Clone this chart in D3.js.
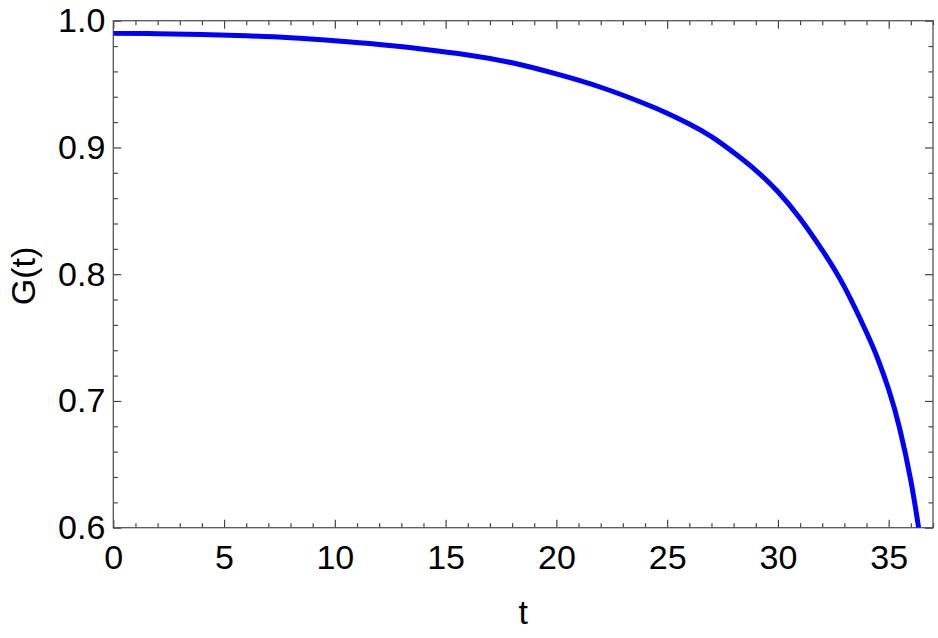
<!DOCTYPE html>
<html>
<head>
<meta charset="utf-8">
<script src="https://cdn.jsdelivr.net/npm/d3@7"></script>
<style>
  body { margin: 0; background: #fff; }
  svg { display: block; }
  text { font-family: "Liberation Sans", Arial, sans-serif; fill: #000; }
</style>
</head>
<body>
<svg id="chart" width="938" height="638"></svg>
<script>
// values
tValues = [0, 2, 4, 6, 8, 10, 12, 14, 16, 18, 20, 22, 24, 25, 26, 27, 28, 29, 30, 31, 32, 33, 34, 34.5, 35, 35.5, 36, 36.35];
gValues = [0.990, 0.9898, 0.9892, 0.9881, 0.9865, 0.9841, 0.9812, 0.9775, 0.973, 0.9668, 0.958, 0.9475, 0.9345, 0.927, 0.9185, 0.9085, 0.896, 0.882, 0.865, 0.844, 0.819, 0.790, 0.754, 0.7335, 0.709, 0.678, 0.637, 0.600];
xMajor = [0, 5, 10, 15, 20, 25, 30, 35];
yMajor = [0.6, 0.7, 0.8, 0.9, 1.0];

width = 938;
height = 638;
margin = {left: 113.3, right: 5, top: 20.7, bottom: 110.3};
plotW = width - margin.left - margin.right;
plotH = height - margin.top - margin.bottom;
fontSize = '34px';

svg = d3.select('#chart');
x = d3.scaleLinear().domain([0, 37]).range([0, plotW]);
y = d3.scaleLinear().domain([0.6, 1.0]).range([plotH, 0]);

xMinor = d3.range(0, 38, 1).filter(d => xMajor.indexOf(d) < 0);
yMinor = d3.range(0.6, 1.0001, 0.02).filter(d => !yMajor.some(m => Math.abs(m - d) < 1e-6));

g = svg.append('g').attr('transform', `translate(${margin.left},${margin.top})`);

g.append('defs').append('clipPath').attr('id', 'clip')
  .append('rect').attr('width', plotW).attr('height', plotH);

fmtY = d3.format('.1f');

function styleAxis(sel){
  sel.select('.domain').remove();
  sel.selectAll('line').attr('stroke', '#444').attr('stroke-width', 1.2);
  sel.selectAll('text').style('font-size', fontSize).attr('fill', '#000');
}

// bottom
g.append('g').attr('transform', `translate(0,${plotH})`)
  .call(d3.axisBottom(x).tickValues(xMajor).tickSize(-8).tickPadding(17).tickFormat(d3.format('d')))
  .call(styleAxis);
g.append('g').attr('transform', `translate(0,${plotH})`)
  .call(d3.axisBottom(x).tickValues(xMinor).tickSize(-4.5).tickFormat(''))
  .call(styleAxis);
// top
g.append('g')
  .call(d3.axisTop(x).tickValues(xMajor).tickSize(-8).tickFormat(''))
  .call(styleAxis);
g.append('g')
  .call(d3.axisTop(x).tickValues(xMinor).tickSize(-4.5).tickFormat(''))
  .call(styleAxis);
// left
g.append('g')
  .call(d3.axisLeft(y).tickValues(yMajor).tickSize(-8).tickPadding(8).tickFormat(fmtY))
  .call(styleAxis);
g.append('g')
  .call(d3.axisLeft(y).tickValues(yMinor).tickSize(-4.5).tickFormat(''))
  .call(styleAxis);
// right
g.append('g').attr('transform', `translate(${plotW},0)`)
  .call(d3.axisRight(y).tickValues(yMajor).tickSize(-8).tickFormat(''))
  .call(styleAxis);
g.append('g').attr('transform', `translate(${plotW},0)`)
  .call(d3.axisRight(y).tickValues(yMinor).tickSize(-4.5).tickFormat(''))
  .call(styleAxis);

// frame
g.append('rect')
  .attr('width', plotW).attr('height', plotH)
  .attr('fill', 'none').attr('stroke', '#555').attr('stroke-width', 1.3);

// curve
line = d3.line()
  .x((d, i) => x(tValues[i]))
  .y(d => y(d))
  .curve(d3.curveNatural);

g.append('path')
  .datum(gValues)
  .attr('clip-path', 'url(#clip)')
  .attr('fill', 'none')
  .attr('stroke', '#0000ff')
  .attr('stroke-width', 5)
  .attr('stroke-linejoin', 'round')
  .attr('d', line);

// axis labels
svg.append('text')
  .attr('x', margin.left + x(18.5))
  .attr('y', 624)
  .attr('text-anchor', 'middle')
  .style('font-size', fontSize)
  .text('t');

svg.append('text')
  .attr('transform', `translate(35,276) rotate(-90)`)
  .attr('text-anchor', 'middle')
  .style('font-size', fontSize)
  .text('G(t)');
</script>
</body>
</html>
